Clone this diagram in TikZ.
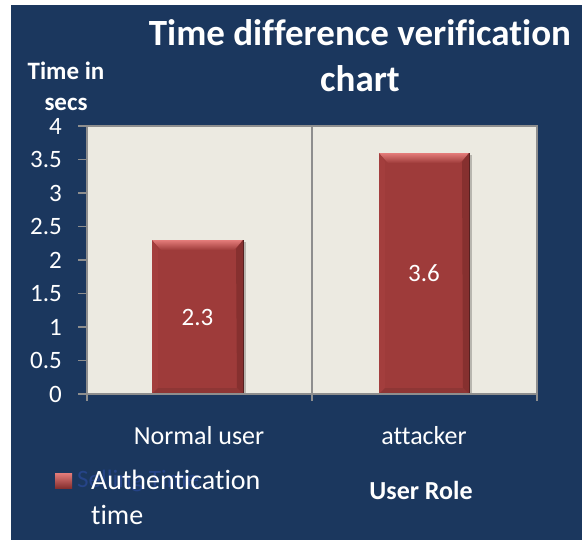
\documentclass[tikz,border=0pt]{standalone}
\usepackage{fontspec}
\setmainfont{Carlito}[Ligatures=NoCommon]
\definecolor{chartbg}{HTML}{1B375E}
\definecolor{plotbg}{HTML}{ECEAE1}
\definecolor{axisgray}{HTML}{8E8E8E}
\definecolor{barred}{HTML}{9E3B3A}
\definecolor{barlight}{HTML}{E47C7A}
\definecolor{bardark}{HTML}{86302F}
\definecolor{barleft}{HTML}{A33E3D}
\definecolor{barbottom}{HTML}{8E3635}
\definecolor{ghostblue}{HTML}{264488}
\tikzset{
  charttitle/.style={text=white, font=\fontsize{37}{46}\bfseries\selectfont, align=center, inner sep=0pt},
  axistitle/.style={text=white, font=\fontsize{25}{31}\bfseries\selectfont, align=center, inner sep=0pt},
  ticklabel/.style={text=white, font=\fontsize{25}{30}\selectfont, anchor=east, inner sep=0pt},
  catlabel/.style={text=white, font=\fontsize{26}{31}\selectfont, inner sep=0pt},
  valuelabel/.style={text=white, font=\fontsize{25}{30}\selectfont, inner sep=0pt},
  legendlabel/.style={text=white, font=\fontsize{28}{35}\selectfont, align=left, inner sep=0pt},
  axisline/.style={axisgray, line width=1.3pt}
}
\begin{document}
\begin{tikzpicture}[x=1pt,y=-1pt]
  \useasboundingbox (0,0) rectangle (582,544);
  \fill[white] (0,0) rectangle (582,544);
  \fill[chartbg] (11,5) rectangle (582,540);
  % plot area
  \draw[axisline, fill=plotbg] (87,126) rectangle (537,394);
  \draw[axisline] (312,126) -- (312,401);
  \foreach \t in {87,537}
    \draw[axisline] (\t,394) -- (\t,401);
  \foreach \i/\v in {0/0,1/0.5,2/1,3/1.5,4/2,5/2.5,6/3,7/3.5,8/4} {
    \draw[axisline] (78,{394-33.5*\i}) -- (87,{394-33.5*\i});
    \node[ticklabel] (tick\i) at (62,{394-33.5*\i}) {\v};
  }
  % bars
  \foreach \name/\xa/\xb/\top/\val in {normal/152/243/240/2.3,attacker/379/469/153/3.6} {
    \fill[black, opacity=0.22] (\xa+2,\top+2) rectangle (\xb+3,394);
    \fill[barred] (\xa,\top) rectangle (\xb,394);
    \shade[top color=barlight, bottom color=barred] (\xa,\top) -- (\xb,\top) -- (\xb-9,\top+10) -- (\xa+9,\top+10) -- cycle;
    \fill[barleft] (\xa,\top) -- (\xa+6,\top+9) -- (\xa+6,388) -- (\xa,394) -- cycle;
    \fill[bardark] (\xb,\top) -- (\xb,394) -- (\xb-6,388) -- (\xb-7,\top+9) -- cycle;
    \fill[barbottom] (\xa,394) -- (\xb,394) -- (\xb-6,388) -- (\xa+6,388) -- cycle;
    \draw[barred!55!black, line width=0.8pt] (\xb,\top) -- (\xb,394);
    \node[valuelabel] (val\name) at ({(\xa+\xb)/2},{(\top+394)/2}) {\val};
  }
  \draw[axisline] (87,394) -- (537,394);
  % texts
  \node[charttitle] (title) at (360,56) {Time difference verification\\chart};
  \node[axistitle] (ytitle) at (66,86) {Time in\\secs};
  \node[catlabel] (catnormal) at (199,436) {Normal user};
  \node[catlabel] (catattacker) at (424,436) {attacker};
  \node[axistitle, font=\fontsize{26}{31}\bfseries\selectfont] (xtitle) at (421,490) {User Role};
  % legend
  \shade[top color=barlight, bottom color=bardark] (55,473) rectangle (72,488);
  \node[ghostblue, font=\fontsize{25}{30}\selectfont, anchor=west, inner sep=0pt] (ghost) at (77,481) {Selling Time};
  \node[legendlabel, anchor=west] (legend) at (91,497) {Authentication\\time};
\end{tikzpicture}
\end{document}
